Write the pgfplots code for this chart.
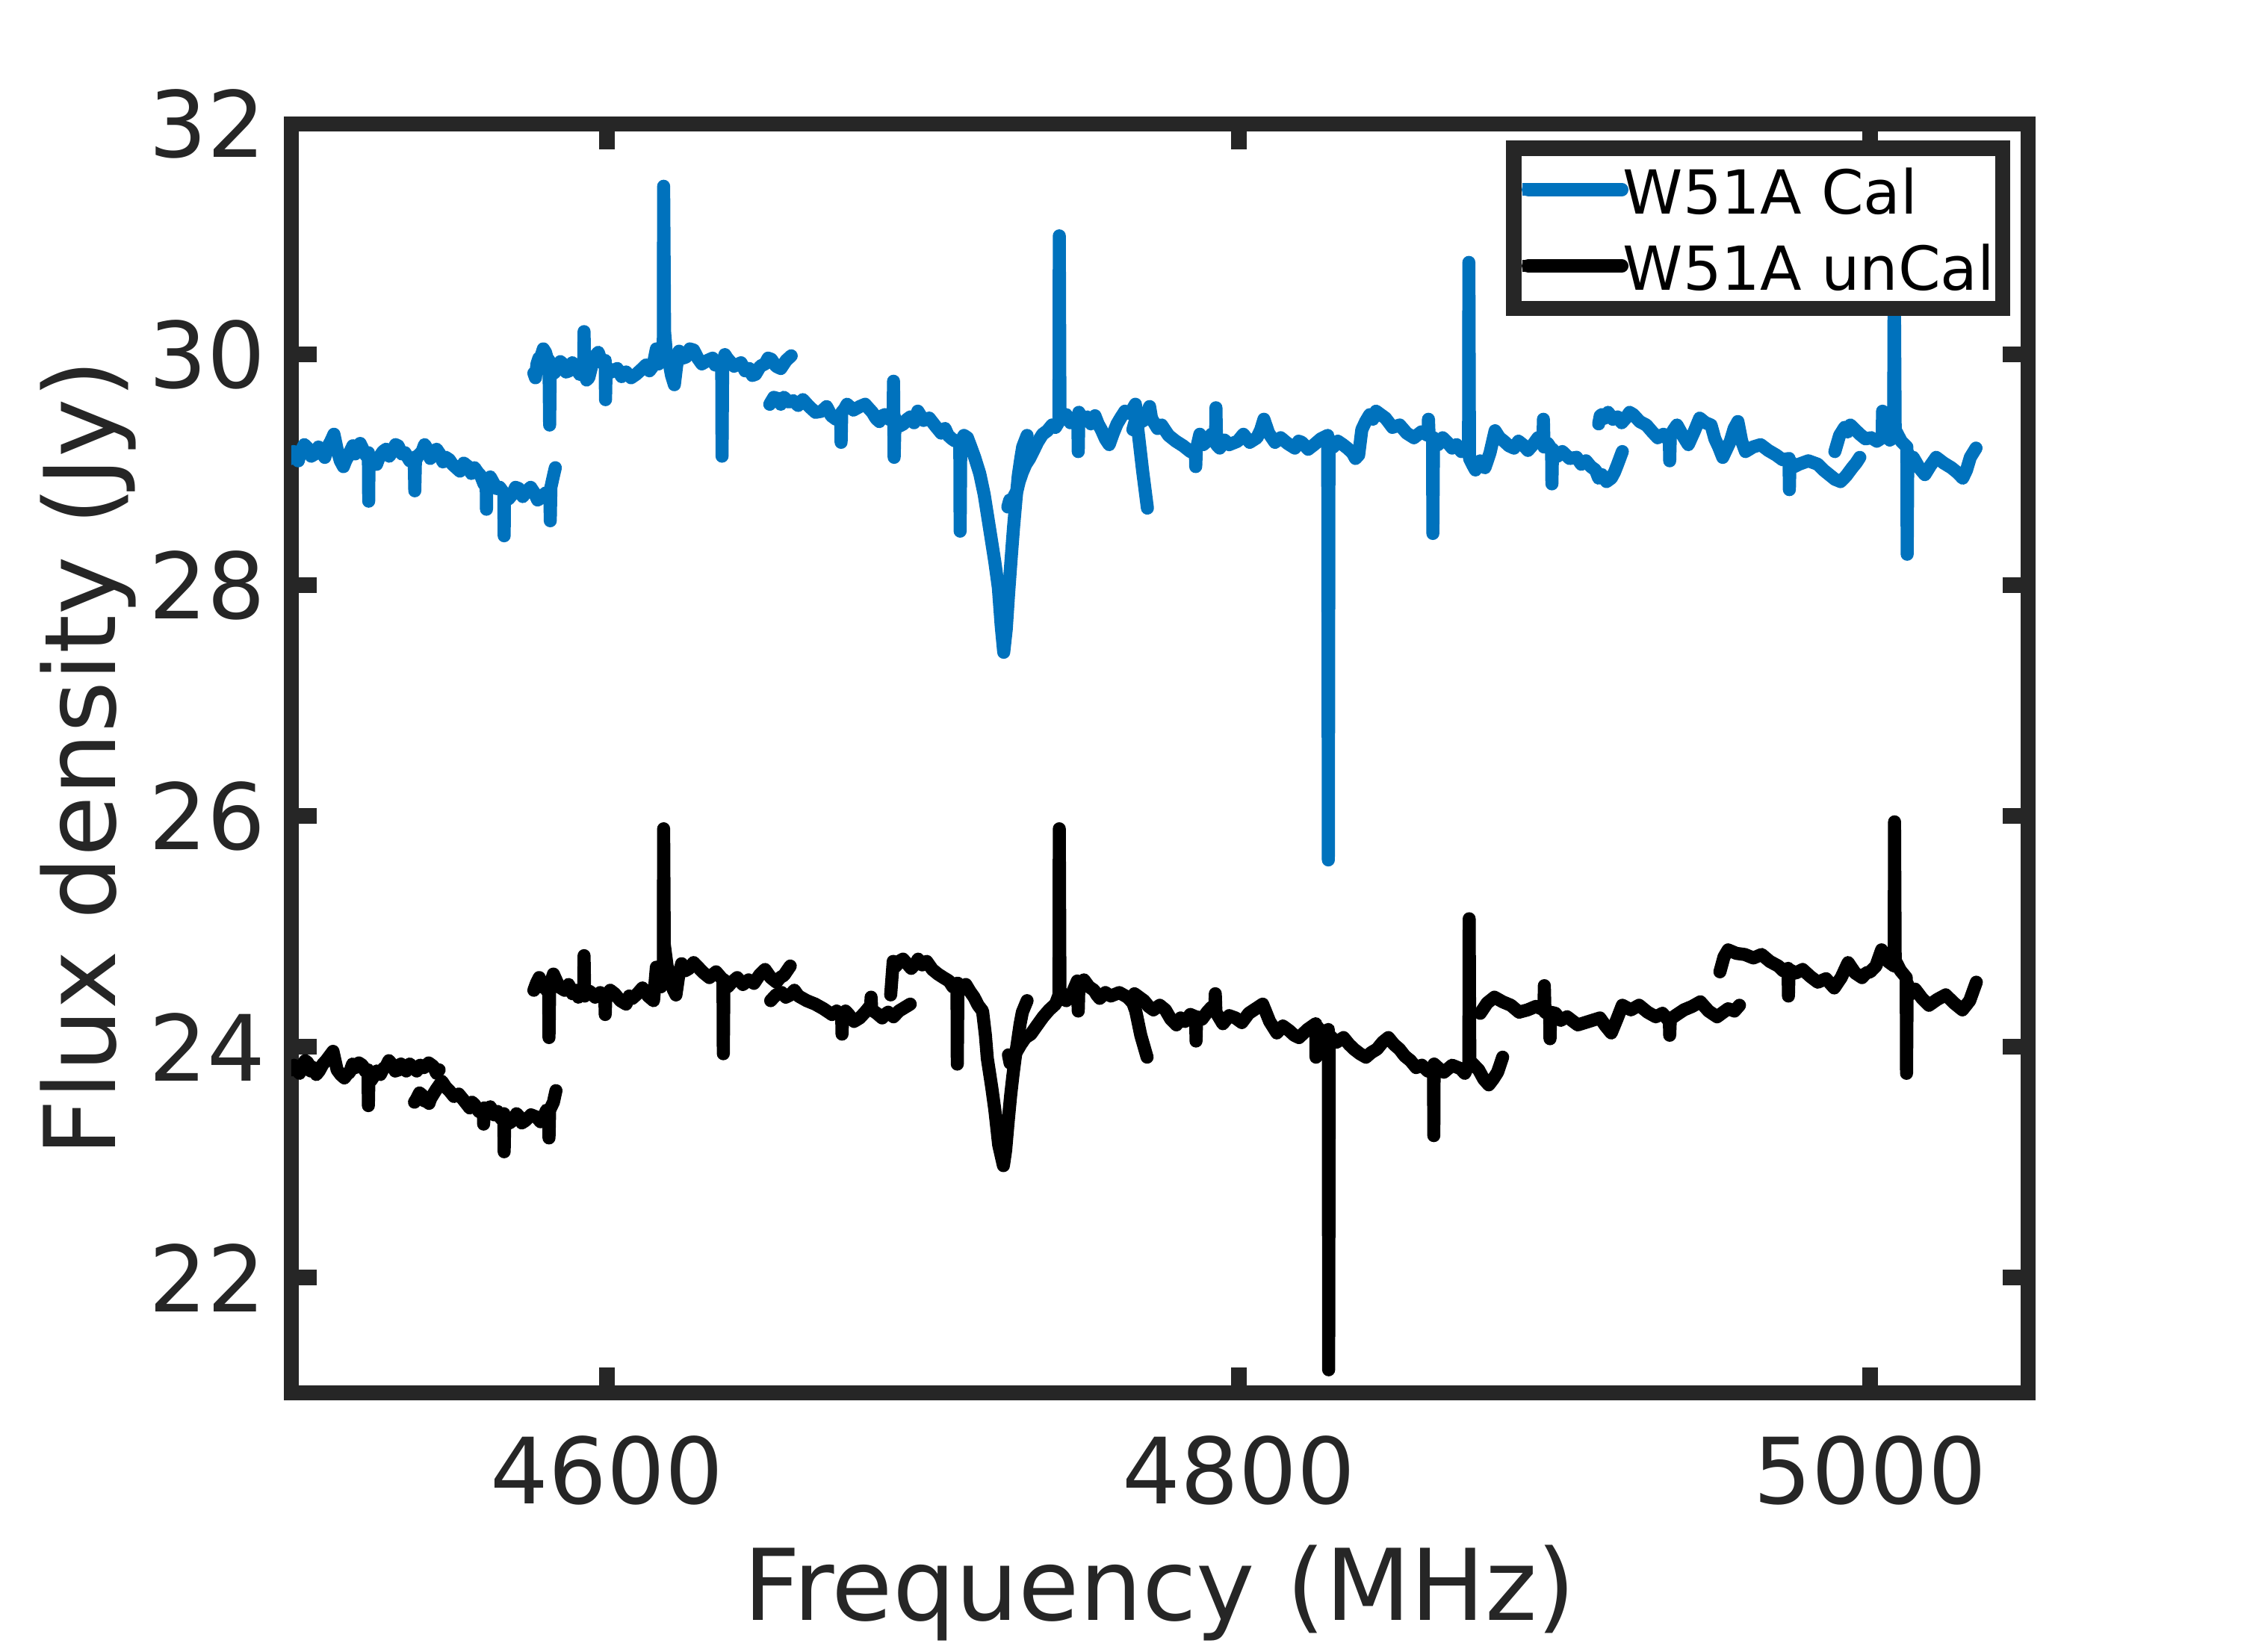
\documentclass[border=0pt]{standalone}
\usepackage{pgfplots}
\pgfplotsset{compat=1.18}
\usepackage{fontspec}
\setmainfont{DejaVu Sans}
\definecolor{axgray}{RGB}{38,38,38}
\definecolor{mblue}{RGB}{0,114,189}
\pgfplotsset{
  cal/.style={color=mblue, line width=4.2pt, line join=round, line cap=round, mark=none},
  uncal/.style={color=black, line width=4.2pt, line join=round, line cap=round, mark=none},
}
\begin{document}
\begin{tikzpicture}
\useasboundingbox (-93.6pt,-83.04pt) rectangle (626.4pt,447.6pt);
\begin{axis}[
  at={(0pt,0pt)}, anchor=south west,
  scale only axis, width=558pt, height=407.76pt,
  xmin=4500, xmax=5050, ymin=21, ymax=32,
  xtick={4600,4800,5000}, ytick={22,24,...,32},
  /pgf/number format/1000 sep={},
  /pgf/number format/assume math mode=true,
  tick align=inside, major tick length=8.2pt, minor tick num=0,
  axis line style={line width=5pt, draw=axgray},
  tick style={line width=5pt, draw=axgray},
  ticklabel style={font=\fontsize{29.4}{35}\selectfont, text=axgray, inner sep=0pt},
  xticklabel style={anchor=north, yshift=-13.6pt},
  yticklabel style={anchor=east, xshift=-8.0pt},
  xlabel={Frequency (MHz)}, ylabel={Flux density (Jy)},
  every axis x label/.style={at={(axis description cs:0.5,-0.17893)}, anchor=base,
    font=\fontsize{31.8}{38}\selectfont, text=axgray, inner sep=0pt},
  every axis y label/.style={at={(axis description cs:-0.10108,0.5)}, anchor=base, rotate=90,
    font=\fontsize{31.8}{38}\selectfont, text=axgray, inner sep=0pt},
  legend style={at={(rel axis cs:0.98538,0.98076)}, anchor=north east, draw=axgray,
    line width=5pt, fill=white, outer sep=0pt, inner xsep=2.6pt, inner ysep=1.165pt,
    font=\fontsize{19.5}{23}\selectfont, text=black, row sep=0pt, column sep=-1.7pt,
    cells={anchor=base west},
    nodes={inner sep=0pt, text height=19.885pt, text depth=4.665pt}},
  legend image code/.code={\draw[#1, line width=4.0pt, line cap=butt, overlay] (-2pt,7.82pt) -- (26.2pt,7.82pt);
    \path (0pt,7.82pt) -- (30.1pt,7.82pt);},
]
% ---------------- W51A Cal (blue) ----------------
\addplot[cal] table {
4500.0 29.10
4500.7 29.16
4501.4 29.12
4502.2 29.08
4503.0 29.16
4504.1 29.22
4505.2 29.19
4506.3 29.12
4507.5 29.14
4508.6 29.20
4509.7 29.15
4510.6 29.11
4511.5 29.20
4512.5 29.25
4513.5 29.31
4514.5 29.18
4515.5 29.08
4516.5 29.03
4517.2 29.08
4518.0 29.12
4518.8 29.17
4519.5 29.21
4520.2 29.14
4521.0 29.17
4521.8 29.23
4522.5 29.19
4523.5 29.13
4524.4 29.15
4524.5 28.73
4524.6 29.12
4525.3 29.06
4526.0 29.10
4527.0 29.05
4527.8 29.11
4529.0 29.16
4530.0 29.18
4531.0 29.12
4532.0 29.16
4533.0 29.22
4533.8 29.21
4535.0 29.14
4536.0 29.15
4537.5 29.08
4538.9 29.11
4539.1 28.82
4539.3 29.08
4540.3 29.13
4541.4 29.16
4542.2 29.22
4542.9 29.19
4544.0 29.10
4545.0 29.13
4546.0 29.18
4547.0 29.14
4548.0 29.07
4548.9 29.11
4550.0 29.09
4551.0 29.05
4552.2 29.02
4553.4 28.99
4554.6 29.06
4556.0 29.03
4557.0 28.97
4558.0 29.02
4559.0 28.98
4560.0 28.95
4561.0 28.88
4561.7 28.92
4561.8 28.66
4561.9 28.90
4563.0 28.94
4564.0 28.89
4565.0 28.84
4566.0 28.85
4567.3 28.80
4567.4 28.43
4567.5 28.80
4568.8 28.75
4570.0 28.79
4571.0 28.85
4572.0 28.84
4573.3 28.77
4574.6 28.82
4575.8 28.85
4577.0 28.80
4578.0 28.74
4579.1 28.76
4580.5 28.80
4581.9 28.78
4582.0 28.56
4582.2 28.85
4583.0 28.95
4583.6 29.02
};
\addplot[cal, forget plot] table {
4576.8 29.84
4577.3 29.80
4577.8 29.92
4578.4 29.97
4579.0 29.98
4579.8 30.05
4580.5 30.02
4581.0 29.97
4581.6 29.95
4581.8 29.39
4582.0 29.90
4583.2 29.84
4584.4 29.88
4585.2 29.94
4586.0 29.92
4587.0 29.85
4588.0 29.86
4589.0 29.93
4590.0 29.90
4591.3 29.83
4592.6 29.88
4592.7 30.20
4592.9 29.84
4593.5 29.78
4594.2 29.80
4595.1 29.90
4596.0 29.95
4596.6 30.00
4597.2 30.02
4598.3 29.93
4599.4 29.95
4599.5 29.61
4599.7 29.90
4601.4 29.85
4603.2 29.88
4604.6 29.81
4606.0 29.85
4607.6 29.80
4609.2 29.83
4610.8 29.87
4612.3 29.91
4613.4 29.86
4614.5 29.90
4615.6 30.05
4616.3 29.92
4617.0 29.95
4617.8 30.05
4617.9 31.46
4618.2 30.20
4618.8 30.00
4619.5 29.95
4620.4 29.82
4621.3 29.74
4622.0 29.90
4622.8 30.03
4623.9 29.97
4625.0 29.98
4626.2 30.05
4627.4 30.04
4628.7 29.97
4630.0 29.92
4631.8 29.95
4633.4 29.97
4634.2 29.91
4635.0 29.94
4636.3 29.92
4636.4 29.12
4636.6 29.93
4637.3 30.00
4638.0 29.97
4640.2 29.90
4642.4 29.93
4643.7 29.86
4645.0 29.88
4646.0 29.82
4647.0 29.83
4648.5 29.90
4650.0 29.92
4651.0 29.97
4652.0 29.96
4653.5 29.90
4655.0 29.88
4656.7 29.95
4658.3 29.99
};
\addplot[cal, forget plot] table {
4651.5 29.57
4652.8 29.63
4654.0 29.62
4655.0 29.57
4656.0 29.63
4657.5 29.59
4659.0 29.60
4660.5 29.56
4662.0 29.61
4663.0 29.58
4664.0 29.55
4666.0 29.50
4668.0 29.51
4669.5 29.55
4671.0 29.47
4672.5 29.44
4674.0 29.45
4674.1 29.24
4674.3 29.50
4675.2 29.53
4676.0 29.57
4678.0 29.52
4680.0 29.55
4681.7 29.57
4683.0 29.53
4684.0 29.50
4685.1 29.45
4686.2 29.42
4687.1 29.47
4688.0 29.48
4689.3 29.44
4690.6 29.50
4690.7 29.77
4690.9 29.11
4691.2 29.45
4692.5 29.38
4693.9 29.40
4695.0 29.44
4696.0 29.46
4697.2 29.41
4698.4 29.51
4700.2 29.43
4702.0 29.45
4704.0 29.38
4705.8 29.32
4707.0 29.36
4708.0 29.30
4709.2 29.27
4710.3 29.25
4711.7 29.25
4711.8 28.47
4712.0 29.25
4713.0 29.30
4714.1 29.28
4715.2 29.20
4716.4 29.11
4718.0 28.97
4719.4 28.79
4720.5 28.60
4721.6 28.41
4722.8 28.20
4723.9 27.98
4724.8 27.65
4725.6 27.42
4726.4 27.62
4727.2 27.95
4728.0 28.25
4728.7 28.50
4729.5 28.75
4730.2 28.95
4731.0 29.10
4731.6 29.20
4733.0 29.30
};
\addplot[cal, forget plot] table {
4726.9 28.68
4727.5 28.74
4728.3 28.72
4729.0 28.78
4729.8 28.82
4730.5 28.90
4731.5 28.98
4732.6 29.05
4733.8 29.10
4734.9 29.16
4736.3 29.24
4737.9 29.31
4739.4 29.34
4740.9 29.39
4742.0 29.37
4743.1 29.42
4743.2 31.03
4743.4 29.50
4744.4 29.44
4745.4 29.48
4746.7 29.41
4748.0 29.44
4749.1 29.40
4749.2 29.16
4749.4 29.50
4750.7 29.43
4752.0 29.46
4753.2 29.40
4754.5 29.47
4755.5 29.40
4756.5 29.35
4757.8 29.27
4759.0 29.22
4760.3 29.32
4761.5 29.40
4762.8 29.46
4764.0 29.51
4765.6 29.49
4767.3 29.57
4768.0 29.37
4769.6 28.99
4771.1 28.67
};
\addplot[cal, forget plot] table {
4766.5 29.35
4767.2 29.42
4768.0 29.40
4769.9 29.43
4771.8 29.55
4772.4 29.45
4773.0 29.42
4774.3 29.36
4775.6 29.39
4777.8 29.30
4780.1 29.25
4782.4 29.21
4784.7 29.16
4786.3 29.16
4786.4 29.03
4786.6 29.18
4787.7 29.31
4788.8 29.22
4790.0 29.25
4791.4 29.31
4792.7 29.28
4792.8 29.54
4793.0 29.22
4794.0 29.19
4795.5 29.26
4797.0 29.22
4799.7 29.25
4801.5 29.31
4803.5 29.24
4805.8 29.28
4807.0 29.35
4808.0 29.44
4809.5 29.32
4811.5 29.24
4813.3 29.28
4815.5 29.23
4817.8 29.19
4819.0 29.25
4820.0 29.24
4822.0 29.18
4823.9 29.22
4826.0 29.27
4828.2 29.30
4828.4 25.62
4828.6 29.25
4830.0 29.20
4831.4 29.25
4833.0 29.22
4834.4 29.19
4836.0 29.15
4837.0 29.10
4838.0 29.13
4839.0 29.35
4840.2 29.42
4841.5 29.48
4842.5 29.44
4843.5 29.51
4845.0 29.48
4846.5 29.45
4848.7 29.37
4851.0 29.39
4853.2 29.32
4855.5 29.28
4857.8 29.33
4860.0 29.30
4860.1 29.44
4860.3 29.30
4861.4 29.28
4861.5 28.45
4861.7 29.28
4863.2 29.22
4864.6 29.28
4866.1 29.24
4867.6 29.19
4869.0 29.22
4870.5 29.16
4871.7 29.20
4872.8 29.18
4872.9 30.80
4873.1 29.10
4874.0 29.05
4875.0 29.00
4876.5 29.08
4878.0 29.02
4879.6 29.15
4881.2 29.34
4882.6 29.28
4884.0 29.25
4885.6 29.21
4887.2 29.19
4888.6 29.25
4890.0 29.22
4891.6 29.17
4893.2 29.22
4894.8 29.28
4896.4 29.25
4896.5 29.44
4896.7 29.20
4897.9 29.23
4899.1 29.18
4899.2 28.88
4899.4 29.18
4901.0 29.12
4902.5 29.16
4904.8 29.10
4907.0 29.11
4908.5 29.05
4910.0 29.08
4911.5 29.03
4913.0 29.00
4914.0 28.93
4915.0 28.96
4916.5 28.90
4918.0 28.93
4919.0 28.98
4920.0 29.05
4921.5 29.16
};
\addplot[cal, forget plot] table {
4914.0 29.40
4914.5 29.47
4915.0 29.48
4916.0 29.45
4917.0 29.50
4918.5 29.44
4920.0 29.46
4921.3 29.41
4922.6 29.45
4923.8 29.50
4925.0 29.48
4927.0 29.42
4929.1 29.39
4931.0 29.33
4932.7 29.28
4934.5 29.31
4936.4 29.25
4936.5 29.08
4936.7 29.30
4937.8 29.35
4938.8 29.39
4940.6 29.30
4942.4 29.22
4944.2 29.33
4946.0 29.45
4947.8 29.41
4949.6 29.39
4950.8 29.27
4952.0 29.20
4953.3 29.11
4954.5 29.18
4955.7 29.25
4956.9 29.36
4958.1 29.42
4959.3 29.25
4960.5 29.16
4962.9 29.20
4965.3 29.22
4967.7 29.17
4970.2 29.13
4972.2 29.09
4974.3 29.10
4974.4 28.83
4974.6 29.08
4976.0 29.03
4977.4 29.05
4980.4 29.08
4983.4 29.05
4985.2 29.00
4987.0 28.96
4988.8 28.92
4990.6 28.90
4992.4 28.95
4994.3 29.02
4995.5 29.06
4996.7 29.11
};
\addplot[cal, forget plot] table {
4988.8 29.16
4990.3 29.30
4991.9 29.37
4992.8 29.33
4993.7 29.39
4995.2 29.35
4996.7 29.31
4998.5 29.27
5000.3 29.28
5002.1 29.25
5003.8 29.28
5003.9 29.51
5004.1 29.32
5005.0 29.30
5006.2 29.26
5007.4 29.28
5007.6 30.80
5007.9 29.35
5009.8 29.25
5011.6 29.20
5011.7 28.27
5011.9 29.15
5012.7 29.07
5013.6 29.11
5015.5 29.02
5017.3 28.96
5019.1 29.04
5020.9 29.11
5023.3 29.06
5025.7 29.02
5027.5 28.98
5029.3 28.93
5030.5 29.00
5031.7 29.11
5033.5 29.19
};
% ---------------- W51A unCal (black) ----------------
\addplot[uncal] table {
4500.0 23.80
4500.9 23.84
4501.8 23.80
4502.6 23.77
4503.5 23.84
4504.4 23.88
4505.3 23.86
4506.1 23.79
4507.0 23.82
4507.9 23.76
4508.8 23.79
4510.0 23.85
4511.0 23.88
4512.1 23.92
4513.2 23.96
4514.5 23.80
4515.6 23.76
4516.8 23.73
4517.6 23.76
4518.5 23.78
4519.4 23.85
4520.3 23.82
4521.4 23.86
4522.5 23.84
4523.4 23.79
4524.3 23.80
4524.4 23.49
4524.6 23.78
4525.3 23.71
4526.0 23.74
4527.1 23.79
4528.2 23.76
4529.1 23.81
4530.0 23.83
4530.9 23.88
4531.8 23.85
4532.9 23.79
4534.0 23.80
4534.7 23.85
4535.3 23.82
4536.4 23.79
4537.5 23.85
4538.6 23.82
4539.7 23.79
4540.8 23.84
4542.0 23.82
4543.5 23.86
4545.0 23.83
4546.0 23.77
4546.8 23.80
};
\addplot[uncal, forget plot] table {
4539.0 23.52
4539.7 23.55
4540.6 23.60
4541.5 23.58
4542.2 23.53
4543.0 23.56
4543.6 23.51
4544.1 23.55
4545.9 23.63
4547.7 23.70
4548.9 23.65
4550.0 23.62
4551.5 23.57
4553.0 23.59
4554.8 23.53
4556.5 23.47
4557.2 23.52
4558.0 23.50
4559.4 23.44
4560.8 23.45
4560.9 23.33
4561.1 23.47
4562.0 23.43
4563.0 23.48
4564.2 23.41
4565.3 23.44
4566.3 23.38
4567.3 23.42
4567.4 23.09
4567.6 23.40
4569.1 23.34
4570.6 23.37
4571.3 23.42
4572.0 23.40
4573.0 23.34
4574.1 23.36
4575.9 23.41
4577.7 23.39
4578.9 23.35
4580.0 23.40
4580.8 23.45
4581.5 23.42
4581.6 23.21
4581.8 23.45
4583.0 23.52
4583.8 23.62
};
\addplot[uncal, forget plot] table {
4576.8 24.49
4577.6 24.55
4578.5 24.60
4579.2 24.52
4580.0 24.55
4580.8 24.49
4581.5 24.52
4581.6 24.08
4581.8 24.50
4582.4 24.58
4583.0 24.63
4584.8 24.52
4586.5 24.49
4587.8 24.54
4589.0 24.46
4590.0 24.49
4590.9 24.43
4591.8 24.47
4592.6 24.45
4592.7 24.79
4592.9 24.44
4594.5 24.48
4596.2 24.43
4597.8 24.47
4599.3 24.42
4599.4 24.28
4599.6 24.44
4601.0 24.49
4602.4 24.46
4604.2 24.40
4606.0 24.37
4607.0 24.44
4608.0 24.42
4609.6 24.46
4611.2 24.51
4613.0 24.44
4614.7 24.40
4615.6 24.69
4616.3 24.55
4617.0 24.52
4617.8 24.60
4617.9 25.89
4618.1 24.89
4619.0 24.70
4620.0 24.60
4620.9 24.50
4621.8 24.45
4622.7 24.62
4623.6 24.72
4624.8 24.66
4626.0 24.68
4627.4 24.73
4628.8 24.69
4630.6 24.64
4632.4 24.60
4634.5 24.65
4636.7 24.58
4636.8 23.94
4637.0 24.58
4638.2 24.52
4639.5 24.56
4641.2 24.60
4643.0 24.54
4644.8 24.58
4646.5 24.55
4648.2 24.62
4650.0 24.67
4651.8 24.60
4653.6 24.56
4654.8 24.60
4656.0 24.62
4657.0 24.66
4658.0 24.70
};
\addplot[uncal, forget plot] table {
4651.8 24.40
4653.5 24.45
4655.3 24.47
4656.6 24.43
4658.0 24.45
4659.3 24.49
4660.6 24.44
4663.2 24.40
4665.9 24.37
4668.5 24.33
4671.2 24.28
4672.7 24.31
4674.3 24.26
4674.4 24.11
4674.6 24.28
4675.5 24.31
4676.5 24.28
4678.2 24.22
4680.0 24.25
4681.7 24.30
4683.5 24.36
4683.6 24.43
4683.8 24.32
4685.4 24.29
4687.1 24.25
4688.0 24.28
4689.0 24.30
4690.7 24.26
4692.4 24.31
4694.2 24.34
4696.0 24.37
};
\addplot[uncal, forget plot] table {
4689.8 24.45
4690.6 24.74
4691.5 24.70
4692.4 24.74
4693.7 24.76
4695.0 24.72
4696.3 24.68
4697.7 24.72
4698.5 24.76
4699.8 24.71
4701.2 24.74
4703.0 24.67
4704.8 24.63
4706.5 24.60
4708.3 24.57
4709.5 24.52
4710.8 24.55
4710.9 23.85
4711.1 24.55
4712.3 24.51
4713.6 24.54
4714.9 24.48
4716.2 24.43
4717.5 24.36
4718.9 24.31
4719.8 24.10
4720.4 23.90
4721.8 23.65
4722.8 23.45
4724.0 23.15
4725.5 22.97
4726.2 23.10
4727.0 23.35
4727.8 23.58
4728.5 23.75
4729.3 23.92
4730.0 24.05
4730.8 24.20
4731.5 24.30
4733.0 24.40
};
\addplot[uncal, forget plot] table {
4727.1 23.93
4727.6 23.86
4728.3 23.90
4729.5 23.95
4731.0 24.02
4732.5 24.08
4734.2 24.11
4736.0 24.18
4738.1 24.26
4740.0 24.32
4742.0 24.37
4743.1 24.45
4743.2 25.89
4743.4 24.50
4744.4 24.42
4745.4 24.40
4747.2 24.46
4748.9 24.57
4749.2 24.31
4749.4 24.52
4750.2 24.55
4751.0 24.58
4752.6 24.52
4754.2 24.49
4755.1 24.45
4756.0 24.42
4757.8 24.47
4759.5 24.44
4762.2 24.47
4764.8 24.43
4766.5 24.38
4767.4 24.31
4769.0 24.10
4771.0 23.91
};
\addplot[uncal, forget plot] table {
4767.0 24.46
4768.5 24.43
4770.0 24.40
4771.5 24.35
4773.0 24.32
4775.0 24.36
4776.8 24.32
4778.5 24.24
4780.3 24.19
4781.6 24.25
4783.0 24.22
4784.7 24.28
4786.4 24.26
4786.5 24.05
4786.7 24.26
4788.4 24.24
4790.0 24.30
4791.3 24.34
4792.5 24.36
4792.6 24.46
4792.8 24.30
4795.0 24.20
4797.0 24.27
4799.0 24.25
4801.0 24.21
4803.2 24.29
4805.4 24.33
4807.6 24.37
4809.8 24.22
4812.1 24.12
4814.0 24.18
4816.0 24.14
4817.6 24.10
4819.1 24.08
4821.8 24.15
4824.4 24.20
4824.5 23.91
4824.7 24.18
4826.5 24.12
4828.4 24.15
4828.5 21.20
4828.7 24.10
4831.0 24.04
4833.2 24.08
4835.0 24.02
4836.5 23.98
4838.4 23.94
4840.3 23.91
4842.0 23.95
4843.8 23.98
4845.6 24.04
4847.4 24.08
4849.2 24.02
4850.9 23.98
4852.6 23.92
4854.4 23.88
4856.2 23.82
4858.0 23.84
4859.9 23.79
4861.7 23.82
4861.8 23.23
4861.9 23.85
4863.5 23.81
4865.0 23.78
4867.6 23.84
4870.3 23.81
4871.6 23.77
4872.9 23.85
4873.0 25.11
4873.2 23.88
4874.6 23.84
4876.0 23.80
4877.6 23.72
4879.2 23.67
4880.6 23.72
4882.0 23.78
4883.6 23.91
};
\addplot[uncal, forget plot] table {
4876.5 24.29
4878.7 24.38
4881.0 24.43
4883.6 24.39
4886.2 24.36
4888.8 24.30
4891.5 24.32
4894.1 24.35
4896.7 24.32
4896.8 24.53
4897.0 24.30
4898.5 24.28
4898.6 24.07
4898.8 24.30
4900.3 24.29
4902.0 24.23
4904.0 24.26
4907.4 24.19
4910.9 24.22
4914.4 24.25
4916.2 24.18
4918.0 24.12
4919.8 24.24
4921.5 24.36
4924.2 24.32
4926.8 24.36
4929.5 24.30
4932.1 24.26
4934.2 24.29
4936.4 24.22
4936.5 24.10
4936.7 24.24
4938.8 24.28
4941.0 24.32
4943.6 24.35
4946.2 24.39
4948.8 24.31
4951.5 24.26
4953.5 24.30
4955.0 24.33
4957.0 24.31
4958.6 24.36
};
\addplot[uncal, forget plot] table {
4952.4 24.65
4953.7 24.78
4955.0 24.84
4957.6 24.81
4960.3 24.80
4963.0 24.77
4965.6 24.80
4968.2 24.74
4970.9 24.70
4972.4 24.66
4974.0 24.68
4974.1 24.44
4974.3 24.67
4976.4 24.64
4978.6 24.67
4981.0 24.61
4983.4 24.56
4986.0 24.59
4988.6 24.51
4990.8 24.60
4993.0 24.73
4995.2 24.64
4997.4 24.60
4998.7 24.64
5000.0 24.65
5001.8 24.70
5003.6 24.84
5005.6 24.74
5007.6 24.70
5007.7 25.95
5007.9 24.75
5009.6 24.66
5011.4 24.60
5011.5 23.77
5011.7 24.55
5013.0 24.46
5014.2 24.50
5016.4 24.42
5018.6 24.36
5021.2 24.41
5023.9 24.45
5026.5 24.38
5029.2 24.32
5031.5 24.40
5033.6 24.56
};
\legend{W51A Cal, W51A unCal}
\end{axis}
\end{tikzpicture}
\end{document}
